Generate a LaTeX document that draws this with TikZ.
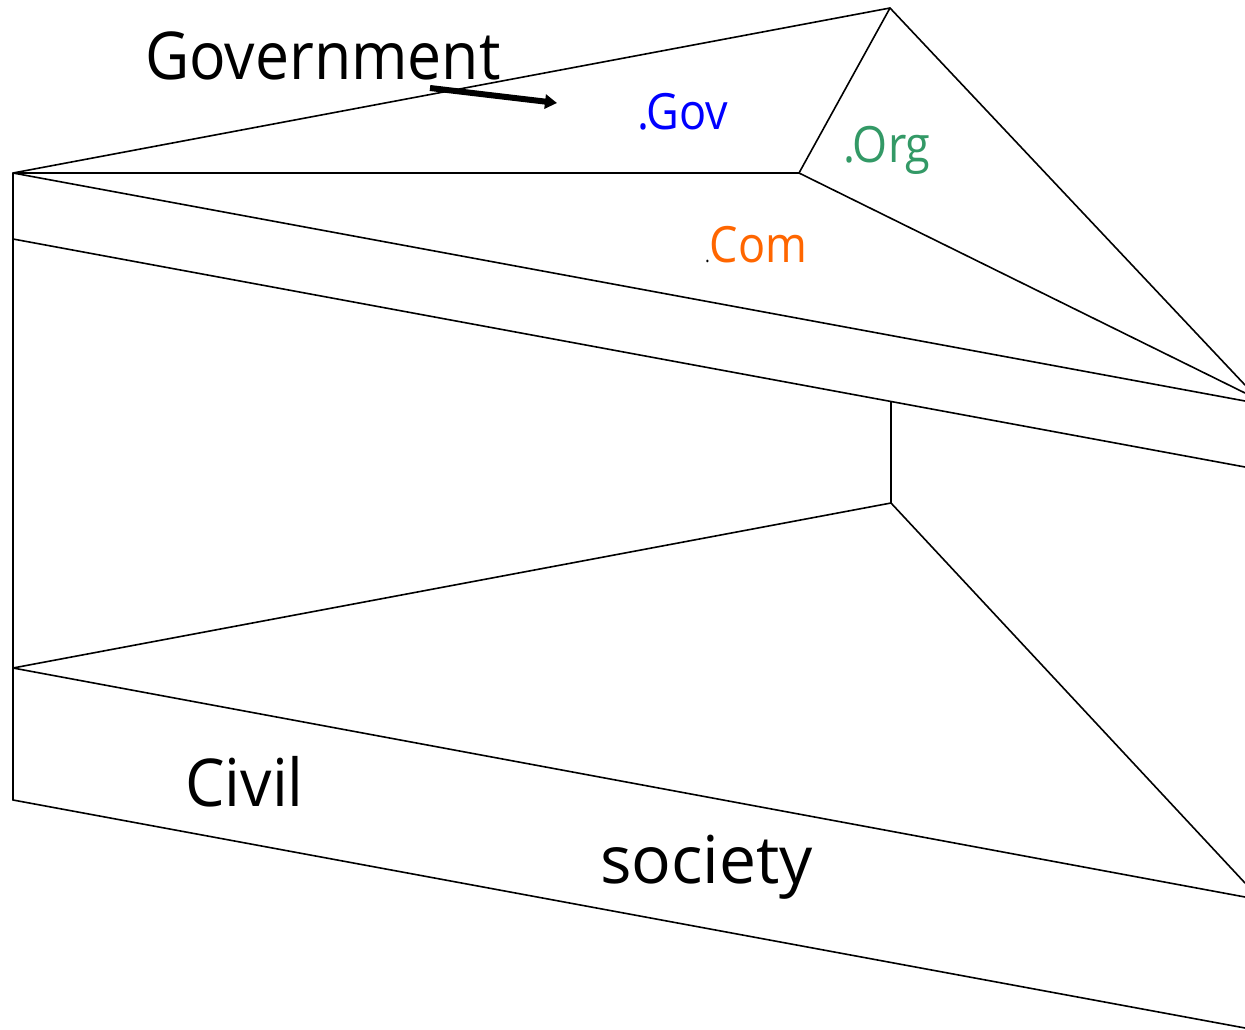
\documentclass[tikz,border=0pt]{standalone}
\usepackage{fontspec}
\setmainfont{Open Sans}
\usetikzlibrary{arrows.meta}
\definecolor{govblue}{RGB}{0,0,255}
\definecolor{orggreen}{RGB}{51,153,102}
\definecolor{comorange}{RGB}{255,102,0}
\begin{document}
\begin{tikzpicture}[x=1pt,y=-1pt,
  edge/.style={draw=black,line width=1.6pt,line cap=round,line join=round},
  lbl/.style={inner sep=0pt,anchor=base west,font=\fontsize{66}{70}\selectfont},
  dom/.style={inner sep=0pt,anchor=base west,xscale=0.9,font=\fontsize{50}{54}\selectfont}]
\useasboundingbox (0,0) rectangle (1245,1030);
\begin{scope}
\clip (0,0) rectangle (1245,1030);
% key points
\coordinate (A) at (13,173);
\coordinate (T) at (890,8);
\coordinate (H) at (799,173);
\coordinate (B) at (13,239);
\coordinate (M) at (13,668);
\coordinate (L) at (13,800);
\coordinate (V1) at (891,402);
\coordinate (V2) at (891,503);
\coordinate (R1) at (1245,385);
\coordinate (R2) at (1245,393);
\coordinate (R3) at (1245,401);
\coordinate (R4) at (1245,467);
\coordinate (R5) at (1245,883);
\coordinate (R6) at (1245,897);
\coordinate (R7) at (1245,1028);
\draw[edge] (L) -- (A) -- (T) -- (H) -- (A);
\draw[edge] (T) -- (R1);
\draw[edge] (H) -- (R2);
\draw[edge] (A) -- (R3);
\draw[edge] (B) -- (R4);
\draw[edge] (V1) -- (V2);
\draw[edge] (V2) -- (M);
\draw[edge] (V2) -- (R5);
\draw[edge] (M) -- (R6);
\draw[edge] (L) -- (R7);
\end{scope}
% labels
\node[lbl,xscale=0.92] (gov) at (145,80) {Government};
\coordinate (arrS) at (430,88);
\coordinate (arrE) at (557,103);
\draw[line width=6pt,-{Triangle[length=12pt,width=14pt]}] (arrS) -- (arrE);
\node[dom,text=govblue] (dgov) at (637,130) {.Gov};
\node[dom,text=orggreen] (dorg) at (843,163) {.Org};
\node[dom] (dcom) at (705,262) {{\fontsize{20}{20}\selectfont.}\textcolor{comorange}{Com}};
\node[lbl,xscale=0.95] (civil) at (185,806) {Civil};
\node[lbl] (society) at (600,883) {society};
\end{tikzpicture}
\end{document}
